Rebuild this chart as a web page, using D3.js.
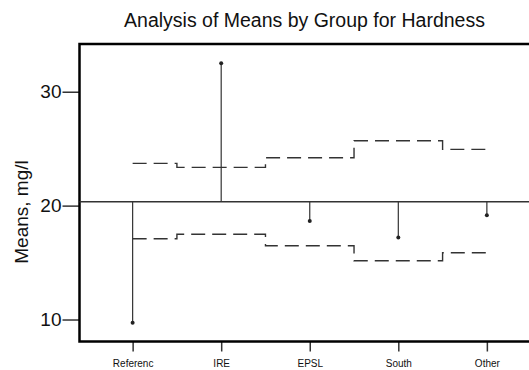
<!DOCTYPE html>
<html>
<head>
<meta charset="utf-8">
<script src="https://cdn.jsdelivr.net/npm/d3@7"></script>
<style>
  html, body { margin: 0; padding: 0; background: #fff; }
  svg { display: block; font-family: "Liberation Sans", Arial, sans-serif; }
</style>
</head>
<body>
<svg id="chart"></svg>
<script>
// data
const categories = ["Referenc", "IRE", "EPSL", "South", "Other"];
const means      = [9.72, 32.49, 18.66, 17.2, 19.15];
const upperLimit = [23.71, 23.36, 24.2, 25.7, 24.94];
const lowerLimit = [17.09, 17.48, 16.48, 15.16, 15.86];
const grandMean  = 20.34;
const yTicks     = [10, 20, 30];

const width = 529, height = 370;

const svg = d3.select("#chart")
    .attr("width", width)
    .attr("height", height);

// scales (frame runs past the right edge of the picture)
const x = d3.scaleLinear()
    .domain([0.4, 5.6])
    .range([79.5, 540]);

const y = d3.scaleLinear()
    .domain([8.07, 34.19])
    .range([341.5, 44]);

const xi = (d, i) => x(i + 1);

// title
svg.append("text")
    .attr("x", 304.5)
    .attr("y", 27)
    .attr("text-anchor", "middle")
    .style("font-size", "19.5px")
    .attr("fill", "#111")
    .text("Analysis of Means by Group for Hardness");

// y label
svg.append("text")
    .attr("transform", "translate(28," + 212 + ") rotate(-90)")
    .attr("text-anchor", "middle")
    .style("font-size", "19px")
    .attr("fill", "#111")
    .text("Means, mg/l");

// axes
const yAxis = svg.append("g")
    .attr("transform", "translate(" + x(0.4) + ",0)")
    .call(d3.axisLeft(y).tickValues(yTicks).tickSize(17).tickPadding(1));
yAxis.select(".domain").remove();
yAxis.selectAll(".tick line").attr("stroke", "#333").attr("stroke-width", 1.5);
yAxis.selectAll(".tick text")
    .style("font-size", "19px")
    .style("font-family", "Liberation Sans, Arial, sans-serif")
    .attr("fill", "#111");

const xAxis = svg.append("g")
    .attr("transform", "translate(0," + y(8.07) + ")")
    .call(d3.axisBottom(x)
        .tickValues(d3.range(1, categories.length + 1))
        .tickFormat(d => categories[d - 1])
        .tickSize(10).tickPadding(8));
xAxis.select(".domain").remove();
xAxis.selectAll(".tick line").attr("stroke", "#333").attr("stroke-width", 1.5);
xAxis.selectAll(".tick text")
    .style("font-size", "10px")
    .style("font-family", "Liberation Sans, Arial, sans-serif")
    .attr("fill", "#111");

// frame
svg.append("rect")
    .attr("x", x(0.4))
    .attr("y", y(34.19))
    .attr("width", x(5.6) - x(0.4))
    .attr("height", y(8.07) - y(34.19))
    .attr("fill", "none")
    .attr("stroke", "#000")
    .attr("stroke-width", 2.5);

// decision limits as stepped dashed lines
const step = d3.line()
    .x(xi)
    .y(d => y(d))
    .curve(d3.curveStep);

[upperLimit, lowerLimit].forEach(lim => {
    svg.append("path")
        .attr("d", step(lim))
        .attr("fill", "none")
        .attr("stroke", "#333")
        .attr("stroke-width", 1.4)
        .attr("stroke-dasharray", "14,7");
});

// center line
svg.append("line")
    .attr("x1", x(0.4))
    .attr("x2", x(5.6))
    .attr("y1", y(grandMean))
    .attr("y2", y(grandMean))
    .attr("stroke", "#333")
    .attr("stroke-width", 1.5);

// mean spikes
svg.append("g")
    .selectAll("line")
    .data(means)
    .join("line")
    .attr("x1", xi)
    .attr("x2", xi)
    .attr("y1", y(grandMean))
    .attr("y2", d => y(d))
    .attr("stroke", "#333")
    .attr("stroke-width", 1.2);

svg.append("g")
    .selectAll("circle")
    .data(means)
    .join("circle")
    .attr("cx", xi)
    .attr("cy", d => y(d))
    .attr("r", 2)
    .attr("fill", "#222");
</script>
</body>
</html>
